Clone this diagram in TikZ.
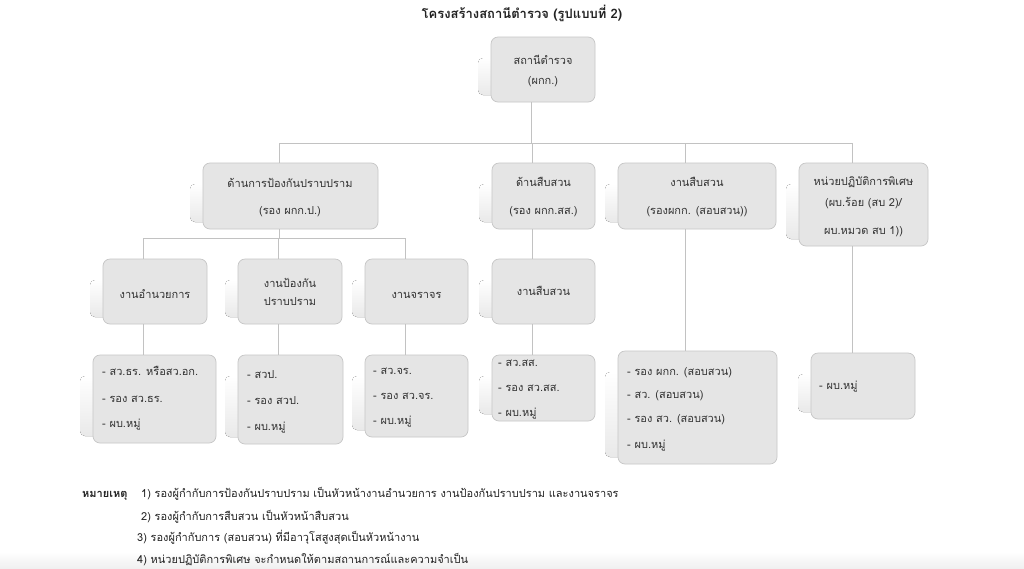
\documentclass[tikz,border=0pt]{standalone}
\usepackage{fontspec}
\setmainfont{Liberation Sans}
\newfontfamily\thai[Script=Thai]{Loma}
\definecolor{boxfill}{HTML}{E5E5E5}
\definecolor{boxline}{HTML}{C6C6C6}
\definecolor{conn}{HTML}{C2C2C2}
\definecolor{txtc}{HTML}{333333}
\definecolor{notec}{HTML}{222222}
\definecolor{shad}{HTML}{E9E9E9}
\tikzset{
  orgbox/.style={draw=boxline, fill=boxfill, rounded corners=7pt, line width=0.7pt, inner sep=0pt},
  conline/.style={draw=conn, line width=0.8pt},
  bt/.style={font=\thai\fontsize{11}{13}\selectfont, text=txtc, inner sep=0pt, text height=8pt, text depth=3pt},
  lt/.style={bt, anchor=west},
  nt/.style={font=\thai\fontsize{11}{13}\selectfont, text=notec, inner sep=0pt, text height=8pt, text depth=3pt, anchor=west},
}
\newcommand\obox[5]{%
  \fill[top color=white, bottom color=shad, rounded corners=5pt] (#2-13,#3+21) rectangle (#4-12,#5-7);
  \node[orgbox, minimum width={#4-#2}, minimum height={#5-#3}] (#1) at ({(#2+#4)/2},{(#3+#5)/2}) {};
  \coordinate (#1-t) at ([xshift=-11.5pt]#1.north);
  \coordinate (#1-b) at ([xshift=-11.5pt]#1.south);
}
\begin{document}
\begin{tikzpicture}[x=1pt,y=-1pt]
\fill[white] (0,0) rectangle (1024,568);
\useasboundingbox (0,0) rectangle (1024,568);
\shade[top color=white, bottom color=black!6] (0,552) rectangle (1024,568);

\node[font=\thai\bfseries\fontsize{13}{15}\selectfont, text=notec, inner sep=0pt] (title) at (522,13) {โครงสร้างสถานีตำรวจ (รูปแบบที่ 2)};

% boxes
\obox{top}{491}{37}{595}{102}
\obox{d1}{203}{163}{378}{229}
\obox{d2}{492}{163}{595}{229}
\obox{d3}{618}{163}{776}{229}
\obox{d4}{799}{163}{928}{246}
\obox{r1}{103}{259}{207}{324}
\obox{r2}{238}{259}{342}{324}
\obox{r3}{365}{259}{468}{324}
\obox{r4}{492}{259}{595}{324}
\obox{s1}{93}{355}{216}{443}
\obox{s2}{238}{355}{343}{444}
\obox{s3}{365}{355}{468}{437}
\obox{s4}{492}{355}{595}{421}
\obox{s5}{618}{351}{777}{464}
\obox{s6}{811}{353}{915}{419}

\coordinate (bus) at (0,143);
\coordinate (sub) at (0,238);

% connectors
\draw[conline] (top-b) -- (top-b |- bus);
\draw[conline] (d1-t) |- (bus -| d4-t) -- (d4-t);
\draw[conline] (d2-t) -- (d2-t |- bus);
\draw[conline] (d3-t) -- (d3-t |- bus);
\draw[conline] (d1-b) -- (d1-b |- sub);
\draw[conline] (r1-t) |- (sub -| r3-t) -- (r3-t);
\draw[conline] (r2-t) -- (r2-t |- sub);
\draw[conline] (r1-b) -- (r1-b |- s1.north);
\draw[conline] (r2-b) -- (r2-b |- s2.north);
\draw[conline] (r3-b) -- (r3-b |- s3.north);
\draw[conline] (d2-b) -- (d2-b |- r4.north);
\draw[conline] (r4-b) -- (r4-b |- s4.north);
\draw[conline] (d3-b) -- (d3-b |- s5.north);
\draw[conline] (d4-b) -- (d4-b |- s6.north);

% box texts
\node[bt] (top-1) at (543,62) {สถานีตำรวจ};
\node[bt] (top-2) at (543,82) {(ผกก.)};
\node[bt] (d1-1) at (290,185) {ด้านการป้องกันปราบปราม};
\node[bt] (d1-2) at (290,212) {(รอง ผกก.ป.)};
\node[bt] (d2-1) at (543.5,184) {ด้านสืบสวน};
\node[bt] (d2-2) at (543.5,212) {(รอง ผกก.สส.)};
\node[bt] (d3-1) at (697,184) {งานสืบสวน};
\node[bt] (d3-2) at (697,212) {(รองผกก. (สอบสวน))};
\node[bt] (d4-1) at (863.5,183) {หน่วยปฏิบัติการพิเศษ};
\node[bt] (d4-2) at (863.5,204) {(ผบ.ร้อย (สบ 2)/};
\node[bt] (d4-3) at (863.5,232) {ผบ.หมวด สบ 1))};
\node[bt] (r1-1) at (155,296) {งานอำนวยการ};
\node[bt] (r2-1) at (290,285) {งานป้องกัน};
\node[bt] (r2-2) at (290,303) {ปราบปราม};
\node[bt] (r3-1) at (416.5,296) {งานจราจร};
\node[bt] (r4-1) at (543.5,293) {งานสืบสวน};

\node[lt] (s1-1) at (102,373) {- สว.ธร. หรือสว.อก.};
\node[lt] (s1-2) at (102,400) {- รอง สว.ธร.};
\node[lt] (s1-3) at (102,425) {- ผบ.หมู่};
\node[lt] (s2-1) at (247,376) {- สวป.};
\node[lt] (s2-2) at (247,402) {- รอง สวป.};
\node[lt] (s2-3) at (247,428) {- ผบ.หมู่};
\node[lt] (s3-1) at (373,372) {- สว.จร.};
\node[lt] (s3-2) at (373,397) {- รอง สว.จร.};
\node[lt] (s3-3) at (373,422) {- ผบ.หมู่};
\node[lt] (s4-1) at (498,364) {- สว.สส.};
\node[lt] (s4-2) at (498,389) {- รอง สว.สส.};
\node[lt] (s4-3) at (498,414) {- ผบ.หมู่};
\node[lt] (s5-1) at (627,373) {- รอง ผกก. (สอบสวน)};
\node[lt] (s5-2) at (627,396) {- สว. (สอบสวน)};
\node[lt] (s5-3) at (627,420) {- รอง สว. (สอบสวน)};
\node[lt] (s5-4) at (627,446) {- ผบ.หมู่};
\node[lt] (s6-1) at (819,387) {- ผบ.หมู่};

% notes
\node[nt, font=\thai\bfseries\fontsize{11}{13}\selectfont] (note) at (82,495) {หมายเหตุ};
\node[nt] (n1) at (141,495) {1) รองผู้กำกับการป้องกันปราบปราม เป็นหัวหน้างานอำนวยการ งานป้องกันปราบปราม และงานจราจร};
\node[nt] (n2) at (141,518) {2) รองผู้กำกับการสืบสวน เป็นหัวหน้าสืบสวน};
\node[nt] (n3) at (137,539) {3) รองผู้กำกับการ (สอบสวน) ที่มีอาวุโสสูงสุดเป็นหัวหน้างาน};
\node[nt] (n4) at (137,561) {4) หน่วยปฏิบัติการพิเศษ จะกำหนดให้ตามสถานการณ์และความจำเป็น};
\end{tikzpicture}
\end{document}
